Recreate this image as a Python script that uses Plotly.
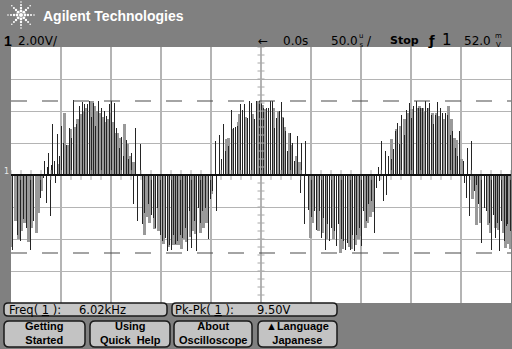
import numpy as np
import plotly.graph_objects as go

# ---------------- data (time in µs, voltage in V) ----------------
dark_t = [-249, -244, -241, -238, -235, -231, -228, -221, -218, -215, -211, -206,
          -217, -214, -213, -210, -209, -207, -204, -202, -200, -198, -195, -192, -190,
          -188, -185, -182, -179, -177, -174, -172, -170, -168, -166, -163, -160, -157, -155,
          -152, -150, -147, -145, -142, -140, -138, -135, -133, -130, -126, -121,
          -128, -124, -119, -117, -113, -110, -108, -106, -104, -101, -99, -96, -94, -92, -90,
          -88, -86, -84, -81, -79, -76, -74, -72, -70, -67, -65, -63, -61, -59, -56, -53, -51,
          -49, -45,
          -46, -42, -40, -38, -36, -33, -30, -28, -26, -24, -21, -19, -17, -14, -12, -10, -7,
          -5, -2, 0, 2, 5, 7, 9, 11, 13, 15, 18, 20, 22, 24, 26, 29, 31, 33, 36, 40, 44,
          39, 43, 47, 50, 53, 55, 58, 60, 62, 64, 66, 68, 70, 73, 75, 77, 80, 82, 84, 86, 89,
          91, 93, 95, 98, 100, 102, 105, 107, 110, 113, 115, 118, 122, 125,
          117, 120, 124, 127, 130, 132, 134, 136, 138, 140, 143, 145, 148, 150, 152, 155,
          157, 159, 161, 164, 166, 168, 170, 172, 174, 176, 179, 181, 184, 186, 189, 191,
          194, 196, 198, 202, 206, 210,
          203, 205, 208, 213, 215, 217, 220, 223, 225, 228, 230, 232, 234, 236, 238, 240,
          243, 245, 246, 249]
dark_v = [-4.66, -3.72, -4.14, -2.78, -3.30, -4.66, -2.89, -1.43, -0.18, -1.74, -2.57, -0.49,
          0.86, 0.5, 1.39, 0.6, 3.20, 0.9, 2.57, 1.2, 3.05, 2.0, 1.9, 2.95, 2.3,
          4.66, 3.20, 4.30, 4.57, 4.41, 4.41, 4.62, 3.6, 4.51, 3.05, 4.62, 4.20, 3.99, 3.68,
          4.41, 4.62, 4.51, 2.95, 1.70, 2.4, 1.18, 2.2, 1.0, 1.39, 2.95, 1.95,
          -1.84, -2.89, -3.09, -2.4, -1.84, -2.47, -2.68, -3.30, -2.05, -3.72, -4.14, -3.93,
          -4.76, -4.35, -4.66, -3.72, -4.3, -4.14, -3.72, -3.93, -3.30, -4.76, -2.26, -4.55,
          -2.89, -4.76, -2.05, -3.0, -2.26, -2.05, -4.03, -1.5, -1.01, -2.26,
          2.11, 2.53, 1.0, 3.20, 1.5, 1.8, 4.09, 2.95, 2.99, 3.05, 4.41, 4.09, 4.41, 3.57,
          4.62, 4.51, 3.47, 4.62, 4.62, 4.51, 4.16, 4.20, 4.16, 4.62, 4.62, 2.95, 3.57, 3.99,
          4.57, 3.57, 2.74, 1.49, 2.64, 2.01, 0.86, 2.43, 2.01, 2.11,
          -1.11, -3.09, -2.16, -2.6, -2.26, -3.41, -2.26, -3.93, -2.68, -4.66, -3.09, -4.14,
          -3.30, -3.51, -4.45, -3.09, -4.0, -4.14, -4.66, -4.24, -4.66, -3.72, -4.76, -3.72,
          -3.30, -4.45, -2.26, -2.89, -1.84, -1.63, -3.61, -0.80, -0.4, -1.63, -1.22,
          0.5, 2.11, 1.49, 1.18, 1.0, 1.6, 2.74, 3.26, 1.91, 3.78, 2.5, 4.09, 4.51, 3.57, 4.30,
          4.62, 4.16, 4.20, 4.16, 4.62, 4.20, 4.51, 3.78, 3.16, 3.78, 4.57, 4.20, 3.89, 3.89,
          3.78, 2.5, 2.74, 1.70, 1.2, 2.78, 0.86, 1.70, 2.11,
          -0.5, -1.43, -2.57, -1.01, -0.6, -1.84, -4.24, -2.05, -2.26, -3.0, -4.66, -2.47,
          -3.93, -3.0, -4.76, -2.89, -4.14, -3.2, -3.09, -3.51]

gray_t = [-250, -246, -243, -240, -237, -233, -230, -225, -223, -220,
          -203, -197, -194, -191, -187, -184, -181, -178, -176, -171, -169, -167, -165, -162,
          -159, -156, -154, -151, -149, -146, -144, -141, -137, -134, -132, -128,
          -117, -115, -112, -107, -103, -98, -93, -89, -86, -83, -80, -78, -75, -71, -69, -66,
          -61, -58, -55, -50,
          -35, -33, -29, -23, -22, -16, -9, -4, -3, 1, 4, 12, 17, 21, 23, 28, 30, 35, 38,
          49, 51, 57, 61, 65, 72, 79, 81, 88, 90, 94, 97, 99, 104, 106, 109, 112,
          130, 135, 139, 143, 147, 150, 156, 158, 161, 163, 167, 171, 175, 178, 183, 187, 190,
          193, 195, 200,
          211, 215, 219, 227, 229, 234, 237, 242, 244, 247, 249]
gray_v = [-4.5, -2.9, -4.0, -3.5, -3.0, -4.2, -3.3, -3.61, -2.4, -1.0,
          0.68, 3.89, 1.9, 2.9, 3.0, 3.5, 3.8, 4.0, 4.2, 4.62, 4.62, 4.3, 4.0, 3.9, 3.6, 3.3,
          3.5, 3.9, 3.3, 2.6, 2.64, 2.3, 3.16, 1.91, 1.2, 0.8,
          -3.72, -2.6, -3.0, -3.4, -3.5, -4.3, -4.5, -4.4, -4.4, -4.4, -4.6, -4.0, -4.2, -3.9,
          -3.5, -3.7, -3.61, -3.3, -3.0, -1.2,
          2.22, 2.3, 2.9, 3.3, 3.8, 3.6, 3.8, 4.62, 4.62, 4.4, 4.1, 4.2, 4.0, 3.6, 3.0, 2.64,
          1.9, 1.2, 0.8,
          -3.93, -3.0, -3.5, -3.6, -4.0, -4.0, -4.87, -4.6, -4.5, -4.6, -4.4, -4.0, -3.8,
          -3.3, -3.0, -2.6, -2.3,
          2.22, 2.9, 3.05, 3.47, 3.9, 4.1, 4.2, 4.3, 4.2, 4.0, 4.2, 3.9, 3.9, 3.7, 3.5, 4.3,
          3.5, 2.3, 2.2, 1.0,
          -1.5, -3.1, -3.0, -3.1, -3.6, -3.3, -3.41, -3.6, -4.55, -4.3, -4.6]

cursor_levels = [4.625, -4.875]      # Pk-Pk cursor lines (V)
x_range = [-250, 250]                # 50 µs/div, 10 div
y_range = [-8, 8]                    # 2 V/div, 8 div

# ---------------- helpers ----------------
W, H = 512, 349
def X(p): return p / W
def Y(p): return 1 - p / H

def rrect(x0, y0, x1, y1, r):
    return (f"M {X(x0+r)},{Y(y0)} L {X(x1-r)},{Y(y0)} Q {X(x1)},{Y(y0)} {X(x1)},{Y(y0+r)} "
            f"L {X(x1)},{Y(y1-r)} Q {X(x1)},{Y(y1)} {X(x1-r)},{Y(y1)} "
            f"L {X(x0+r)},{Y(y1)} Q {X(x0)},{Y(y1)} {X(x0)},{Y(y1-r)} "
            f"L {X(x0)},{Y(y0+r)} Q {X(x0)},{Y(y0)} {X(x0+r)},{Y(y0)} Z")

fig = go.Figure()

# center graticule ticks
vt = np.arange(-8, 8.01, 0.5)
fig.add_trace(go.Scatter(x=[0] * len(vt), y=vt, mode="markers", hoverinfo="skip",
                         marker=dict(symbol="line-ew", size=5,
                                     line=dict(width=1, color="#a8a8a8"))))
ht = np.arange(-250, 250.1, 10)
fig.add_trace(go.Scatter(x=ht, y=[0] * len(ht), mode="markers", hoverinfo="skip",
                         marker=dict(symbol="line-ns", size=7,
                                     line=dict(width=1, color="#a8a8a8"))))

# persistence (gray) and live (dark) pulses
fig.add_trace(go.Bar(x=gray_t, y=gray_v, width=3, offset=-1,
                     marker=dict(color="#999999", line=dict(width=0))))
fig.add_trace(go.Bar(x=dark_t, y=dark_v, width=1, offset=0,
                     marker=dict(color="#242424", line=dict(width=0))))
fig.add_trace(go.Scatter(x=x_range, y=[0, 0], mode="lines",
                         line=dict(color="#111111", width=2)))

shapes = []
for lv in cursor_levels:
    shapes.append(dict(type="line", xref="x", yref="y", x0=x_range[0], x1=x_range[1],
                       y0=lv, y1=lv, line=dict(color="#4a4a4a", width=1.2, dash="16px,15px")))

for (x0, y0, x1, y1) in [(4, 303, 167, 316), (172, 303, 337, 316)]:
    shapes.append(dict(type="path", xref="paper", yref="paper", path=rrect(x0, y0, x1, y1, 4),
                       fillcolor="#c6c6c6", line=dict(color="#1a1a1a", width=1.5)))
for (x0, y0, x1, y1) in [(4, 321, 85, 347), (90, 321, 170, 347), (174, 321, 252, 347),
                         (258, 321, 337, 347)]:
    shapes.append(dict(type="path", xref="paper", yref="paper", path=rrect(x0, y0, x1, y1, 5),
                       fillcolor="#c3c3c3", line=dict(color="#1a1a1a", width=1.5)))

# Agilent spark logo
cx, cy = 21, 15
for k in range(8):
    a = k * np.pi / 4
    for rr, s in [(4, 1.4), (7, 1.2), (10, 1.0), (13, 0.8)]:
        px_, py_ = cx + rr * np.cos(a), cy + rr * np.sin(a)
        shapes.append(dict(type="circle", xref="paper", yref="paper",
                           x0=X(px_ - s), x1=X(px_ + s), y0=Y(py_ - s), y1=Y(py_ + s),
                           fillcolor="white", line=dict(width=0)))
shapes.append(dict(type="circle", xref="paper", yref="paper", x0=X(cx - 2), x1=X(cx + 2),
                   y0=Y(cy - 2), y1=Y(cy + 2), fillcolor="white", line=dict(width=0)))

SANS = "Liberation Sans, Arial, DejaVu Sans"
DV = "DejaVu Sans"
ann = []
def txt(x, y, s, size=12, family=SANS, color="black", xa="left", ya="middle"):
    ann.append(dict(x=X(x), y=Y(y), xref="paper", yref="paper", text=s, showarrow=False,
                    xanchor=xa, yanchor=ya, borderpad=0,
                    font=dict(size=size, family=family, color=color)))

txt(42, 16, "<b>Agilent Technologies</b>", 14, SANS, "white")
txt(3, 41, "<b>1</b>", 14, SANS)
txt(17, 41, "2.00V/", 12, DV)
txt(257, 41, "←", 12, DV)
txt(282, 41, "0.0s", 12, DV)
txt(330, 41, "50.0", 12, DV)
txt(358, 41, "u<br>s", 7, DV)
txt(366, 41, "/", 12, DV)
txt(389, 41, "<b>Stop</b>", 11, DV)
txt(427, 41, "<b>ƒ</b>", 13, DV)
txt(441, 40, "1", 15, DV)
txt(463, 41, "52.0", 12, DV)
txt(494, 41, "m<br>V", 7, DV)
txt(3, 171, "1", 8, DV, "#e8e8e8")

txt(8, 309.5, "Freq( <u>1</u> ):", 11.5, DV)
txt(78, 309.5, "6.02kHz", 11.5, DV)
txt(174, 309.5, "Pk-Pk( <u>1</u> ):", 11.5, DV)
txt(256, 309.5, "9.50V", 11.5, DV)

for cxk, l1, l2 in [(44.5, "Getting", "Started"), (130, "Using", "Quick  Help"),
                    (213, "About", "Oscilloscope"), (297.5, "▲Language", "Japanese")]:
    txt(cxk, 332.5, f"<b>{l1}<br>{l2}</b>", 11, SANS, xa="center")

fig.update_layout(
    width=W, height=H, margin=dict(l=0, r=0, t=0, b=0, pad=0),
    paper_bgcolor="#808080", plot_bgcolor="white", showlegend=False,
    barmode="overlay", bargap=0, shapes=shapes, annotations=ann,
    xaxis=dict(domain=[X(11), X(511)], range=x_range, dtick=50, tick0=0, showgrid=True,
               gridcolor="#b4b4b4", gridwidth=1.5, zeroline=False, showticklabels=False,
               ticks="", fixedrange=True),
    yaxis=dict(domain=[Y(303), Y(47)], range=y_range, dtick=2, tick0=0, showgrid=True,
               gridcolor="#b4b4b4", gridwidth=1, zeroline=False, showticklabels=False,
               ticks="", fixedrange=True),
)

fig.write_html("out.html")
